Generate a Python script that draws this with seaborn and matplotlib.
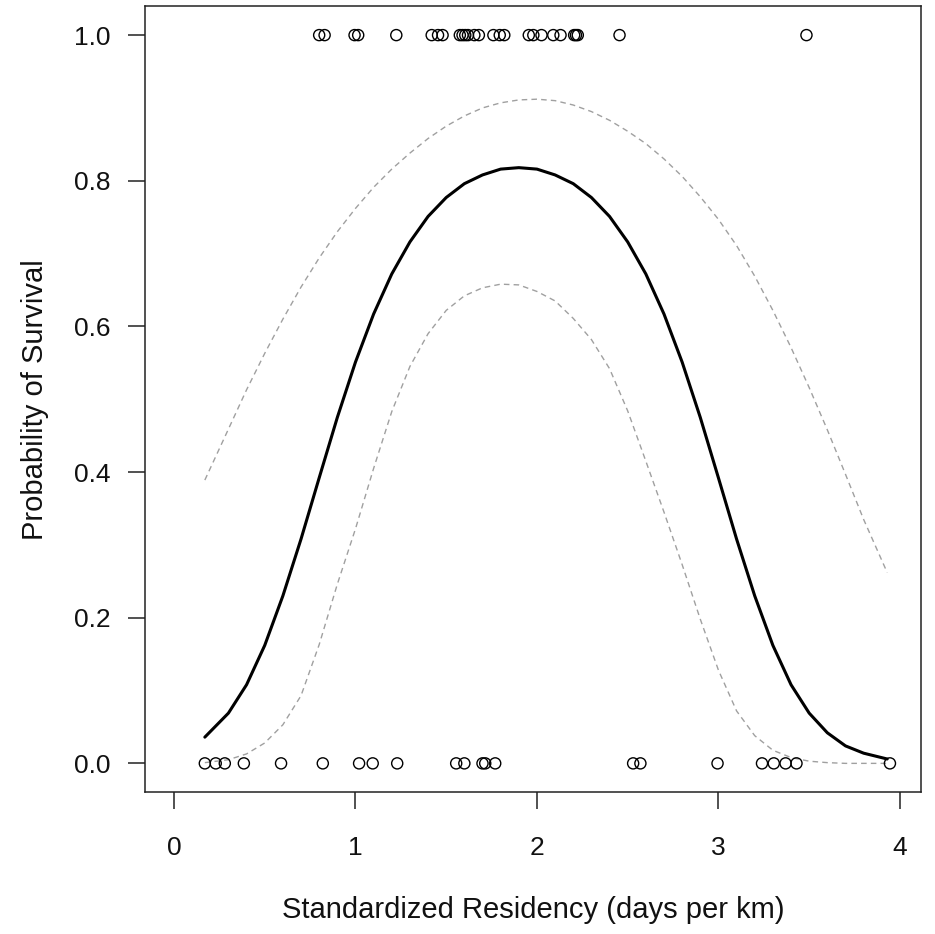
import numpy as np
import pandas as pd
import matplotlib
matplotlib.use("Agg")
import matplotlib.pyplot as plt
import seaborn as sns

# Observed fish: standardized residency (days per km) by fate
survived_x = [0.80, 0.83, 0.995, 1.015, 1.225, 1.42, 1.455, 1.48, 1.575, 1.59, 1.605,
              1.62, 1.655, 1.68, 1.76, 1.795, 1.82, 1.955, 1.98, 2.025, 2.09, 2.13,
              2.205, 2.215, 2.225, 2.455, 3.485]
died_x = [0.17, 0.23, 0.28, 0.385, 0.59, 0.82, 1.02, 1.095, 1.23, 1.555, 1.60,
          1.70, 1.715, 1.77, 2.53, 2.57, 2.995, 3.24, 3.305, 3.37, 3.43, 3.945]

# Fitted probability of survival with 95% confidence band
fit_x = [0.17, 0.3, 0.4, 0.5, 0.6, 0.7, 0.8, 0.9, 1.0, 1.1, 1.2, 1.3, 1.4, 1.5,
         1.6, 1.7, 1.8, 1.9, 2.0, 2.1, 2.2, 2.3, 2.4, 2.5, 2.6, 2.7, 2.8, 2.9,
         3.0, 3.1, 3.2, 3.3, 3.4, 3.5, 3.6, 3.7, 3.8, 3.93]
fit_y = [0.036, 0.069, 0.108, 0.162, 0.230, 0.308, 0.392, 0.475, 0.551, 0.617,
         0.672, 0.716, 0.751, 0.777, 0.796, 0.808, 0.816, 0.818, 0.816, 0.808,
         0.796, 0.777, 0.751, 0.716, 0.672, 0.617, 0.551, 0.475, 0.392, 0.308,
         0.230, 0.162, 0.108, 0.069, 0.042, 0.024, 0.014, 0.006]
upper_y = [0.389, 0.459, 0.513, 0.563, 0.610, 0.654, 0.694, 0.730, 0.762, 0.791,
           0.816, 0.838, 0.858, 0.875, 0.889, 0.900, 0.907, 0.911, 0.912, 0.910,
           0.904, 0.895, 0.883, 0.868, 0.851, 0.830, 0.806, 0.778, 0.747, 0.711,
           0.669, 0.622, 0.571, 0.516, 0.458, 0.397, 0.335, 0.262]
lower_y = [0.001, 0.005, 0.013, 0.028, 0.053, 0.093, 0.163, 0.246, 0.322, 0.405,
           0.483, 0.545, 0.590, 0.622, 0.642, 0.653, 0.658, 0.657, 0.648, 0.635,
           0.611, 0.582, 0.542, 0.484, 0.415, 0.345, 0.273, 0.198, 0.128, 0.072,
           0.038, 0.018, 0.008, 0.003, 0.001, 0.000, 0.000, 0.000]

x_ticks = [0, 1, 2, 3, 4]
y_ticks = [0.0, 0.2, 0.4, 0.6, 0.8, 1.0]
y_tick_labels = ["0.0", "0.2", "0.4", "0.6", "0.8", "1.0"]

sns.set_theme(style="white")
plt.rcParams["font.family"] = ["Liberation Sans", "DejaVu Sans"]

obs = pd.DataFrame({
    "x": survived_x + died_x,
    "y": [1.0] * len(survived_x) + [0.0] * len(died_x),
})
curves = pd.DataFrame({"x": fit_x, "fit": fit_y, "upper": upper_y, "lower": lower_y})

fig = plt.figure(figsize=(9.35, 9.34), dpi=100)
ax = fig.add_axes([0.1556, 0.1515, 0.985 - 0.1556, 0.9936 - 0.1515])

sns.lineplot(data=curves, x="x", y="upper", ax=ax, color="#a0a0a0",
             linewidth=1.0, linestyle=(0, (4, 3)), estimator=None, sort=False)
sns.lineplot(data=curves, x="x", y="lower", ax=ax, color="#a0a0a0",
             linewidth=1.0, linestyle=(0, (4, 3)), estimator=None, sort=False)
sns.lineplot(data=curves, x="x", y="fit", ax=ax, color="black",
             linewidth=2.2, estimator=None, sort=False)
sns.scatterplot(data=obs, x="x", y="y", ax=ax, marker="o", s=64,
                facecolors="none", edgecolor="black", linewidth=1.0, zorder=5)

ax.set_xlim(-0.157, 4.116)
ax.set_ylim(-0.04, 1.04)
ax.set_xticks(x_ticks)
ax.set_xticklabels([str(t) for t in x_ticks])
ax.set_yticks(y_ticks)
ax.set_yticklabels(y_tick_labels)

for sp in ax.spines.values():
    sp.set_color("#222222")
    sp.set_linewidth(1.1)
    sp.set_visible(True)

ax.tick_params(axis="both", which="major", length=12, width=1.1, color="#222222",
               labelsize=19, labelcolor="#111111", direction="out",
               bottom=True, left=True)
ax.tick_params(axis="x", pad=19)
ax.tick_params(axis="y", pad=13)

ax.set_xlabel("Standardized Residency (days per km)", fontsize=21, color="#111111", labelpad=26)
ax.set_ylabel("Probability of Survival", fontsize=21, color="#111111", labelpad=18)

fig.savefig("out.png", dpi=100, facecolor="white")
